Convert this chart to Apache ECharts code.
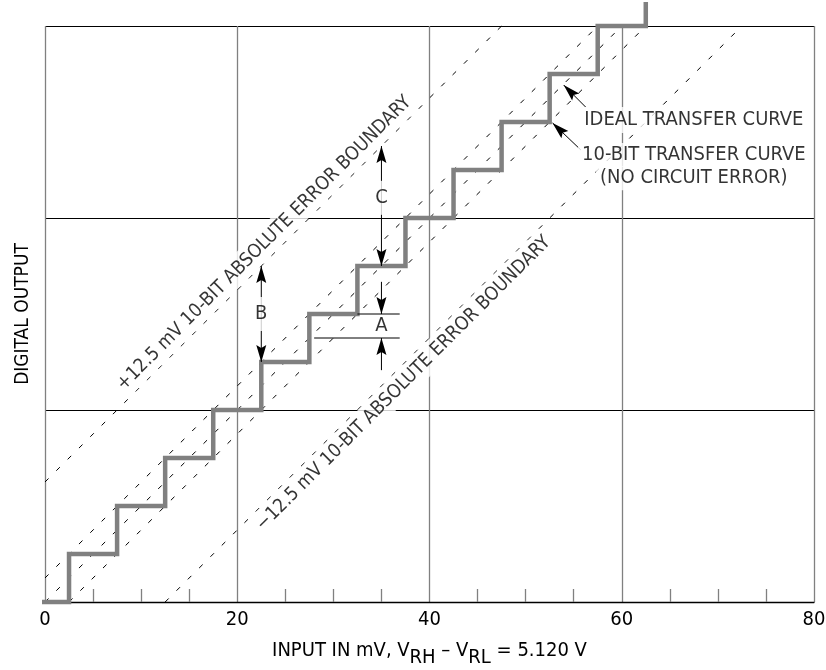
<!DOCTYPE html>
<html><head><meta charset="utf-8">
<script src="https://cdn.jsdelivr.net/npm/echarts@6/dist/echarts.min.js"></script>
<style>html,body{margin:0;padding:0;background:#fff}#c{width:826px;height:670px}</style>
</head><body><div id="c"></div>
<script>
const FONT = "'Liberation Sans Narrow','Arial Narrow','DejaVu Sans Condensed',sans-serif";

// x axis ticks (mV)
const xTicks = [0, 20, 40, 60, 80];
// 10-bit transfer staircase: transition inputs (mV) and output codes (LSB)
const stepX = [-1.6, 2.5, 7.5, 12.5, 17.5, 22.5, 27.5, 32.5, 37.5, 42.5, 47.5, 52.5, 57.5, 62.5];
const stepY = [0, 1, 2, 3, 4, 5, 6, 7, 8, 9, 10, 11, 12, 12.5];
// dashed reference lines: [x,y] end points
const idealCurve     = [[0, 0], [60, 12]];
const halfLsbAbove   = [[0, 0.5], [57.5, 12]];
const halfLsbBelow   = [[2.5, 0], [62.5, 12]];
const upperBoundary  = [[0, 2.5], [47.5, 12]];
const lowerBoundary  = [[12.5, 0], [72.5, 12]];
// dimension arrows: x1, y1, x2, y2, head at start, head at end
const arrowB      = [22.5, 5, 22.5, 7, 1, 1];
const arrowC      = [35, 7, 35, 9.5, 1, 1];
const arrowAtop   = [35, 6.67, 35, 6, 0, 1];
const arrowAbot   = [35, 4.83, 35, 5.5, 0, 1];
const arrowIdeal  = [56.25, 10.31, 53.96, 10.77, 0, 1];
const arrowTen    = [55.73, 9.42, 52.8, 9.98, 0, 1];
// short extension lines for dimension A: x1, y1, x2, y2
const extA1 = [32.5, 6, 36.9, 6, 0, 0];
const extA2 = [28, 5.5, 36.9, 5.5, 0, 0];
// annotation texts and their anchors [x, y]
const textUpper = '+12.5 mV 10-BIT ABSOLUTE ERROR BOUNDARY';
const textLower = '\u221212.5 mV 10-BIT ABSOLUTE ERROR BOUNDARY';
const anchorUpper = [22.8, 7.47];
const anchorLower = [37.3, 4.55];
const textIdeal = 'IDEAL TRANSFER CURVE';
const text10a = '10-BIT TRANSFER CURVE';
const text10b = '(NO CIRCUIT ERROR)';
const anchorIdeal = [67.5, 10.04];
const anchor10a = [67.5, 9.31];
const anchor10b = [67.5, 8.83];
const anchorA = [35, 5.75];
const anchorB = [22.5, 6.0];
const anchorC = [35, 8.42];

const chart = echarts.init(document.getElementById('c'), null, {renderer: 'canvas'});

function dashed(data) {
  return {
    type: 'line', data: data, symbol: 'none', silent: true, z: 2, clip: false,
    lineStyle: {color: '#000', width: 1, type: [5, 11]}, animation: false
  };
}

function renderArrow(params, api) {
  const p1 = api.coord([api.value(0), api.value(1)]);
  const p2 = api.coord([api.value(2), api.value(3)]);
  const children = [{
    type: 'line',
    shape: {x1: p1[0], y1: p1[1], x2: p2[0], y2: p2[1]},
    style: {stroke: '#000', lineWidth: 1}
  }];
  function head(tip, from) {
    const dx = tip[0] - from[0], dy = tip[1] - from[1];
    const len = Math.hypot(dx, dy) || 1;
    const ux = dx / len, uy = dy / len, nx = -uy, ny = ux;
    const L = 17, W = 10, N = 14;
    return {
      type: 'polygon',
      shape: {points: [
        [tip[0], tip[1]],
        [tip[0] - L * ux + W / 2 * nx, tip[1] - L * uy + W / 2 * ny],
        [tip[0] - N * ux, tip[1] - N * uy],
        [tip[0] - L * ux - W / 2 * nx, tip[1] - L * uy - W / 2 * ny]
      ]},
      style: {fill: '#000'}
    };
  }
  if (api.value(4)) children.push(head(p1, p2));
  if (api.value(5)) children.push(head(p2, p1));
  return {type: 'group', children: children};
}

function textItem(anchor, text, opts) {
  return {
    value: anchor,
    label: Object.assign({
      show: true, formatter: text, position: 'inside',
      fontFamily: FONT, fontSize: 20, color: '#000',
      backgroundColor: '#fff', padding: [3, 4]
    }, opts || {})
  };
}

const option = {
  animation: false,
  backgroundColor: '#fff',
  grid: {left: 45, right: 12, top: 26, bottom: 68, outerBoundsMode: 'none', containLabel: false},
  xAxis: {
    type: 'value', min: xTicks[0], max: xTicks[xTicks.length - 1], interval: 20,
    axisLine: {show: true, onZero: false, lineStyle: {color: '#000', width: 1.3}},
    axisTick: {show: false, inside: true},
    minorTick: {show: true, splitNumber: 4, length: 13, lineStyle: {color: '#808080', width: 1.3}},
    minorSplitLine: {show: false},
    axisLabel: {color: '#000', fontFamily: FONT, fontSize: 20, margin: 8},
    splitLine: {show: true, showMinLine: true, showMaxLine: true, lineStyle: {color: '#808080', width: 1.3}},
    name: '{n|INPUT IN mV, V}{s|RH}{n| \u2013 V}{s|RL}{n| = 5.120 V}',
    nameLocation: 'middle', nameGap: 39,
    nameTextStyle: {
      fontFamily: FONT, fontSize: 20, color: '#000',
      rich: {
        n: {fontFamily: FONT, fontSize: 20, color: '#000', lineHeight: 22, verticalAlign: 'top'},
        s: {fontFamily: FONT, fontSize: 20, color: '#000', lineHeight: 22, verticalAlign: 'top', padding: [7, 0, 0, 0]}
      }
    }
  },
  yAxis: {
    type: 'value', min: 0, max: 12, interval: 4,
    axisLine: {show: false}, axisTick: {show: false}, axisLabel: {show: false},
    splitLine: {show: true, showMinLine: false, showMaxLine: true, lineStyle: {color: '#000', width: 1}},
    name: 'DIGITAL OUTPUT', nameLocation: 'middle', nameGap: 12, nameRotate: 90,
    nameTextStyle: {fontFamily: FONT, fontSize: 19, color: '#000'}
  },
  series: [
    dashed(idealCurve), dashed(halfLsbAbove), dashed(halfLsbBelow),
    dashed(upperBoundary), dashed(lowerBoundary),
    {
      type: 'line', step: 'end', symbol: 'none', silent: true, z: 3, clip: false,
      data: stepX.map((x, i) => [x, stepY[i]]),
      lineStyle: {color: '#808080', width: 4.5, join: 'miter', cap: 'butt'}
    },
    {
      type: 'custom', silent: true, z: 4, clip: false,
      renderItem: renderArrow,
      data: [arrowB, arrowC, arrowAtop, arrowAbot, arrowIdeal, arrowTen, extA1, extA2]
    },
    {
      type: 'scatter', silent: true, z: 6, symbolSize: 0, clip: false,
      data: [
        textItem(anchorUpper, textUpper, {rotate: 45, fontSize: 19, padding: [4, 2]}),
        textItem(anchorLower, textLower, {rotate: 45, fontSize: 19, padding: [4, 2]}),
        textItem(anchorIdeal, textIdeal),
        textItem(anchor10a, text10a, {padding: [2, 4]}),
        textItem(anchor10b, text10b, {padding: [2, 4]}),
        textItem(anchorA, 'A', {backgroundColor: 'transparent', padding: 0}),
        textItem(anchorB, 'B', {padding: [7, 1]}),
        textItem(anchorC, 'C', {padding: [7, 1]})
      ]
    }
  ]
};
chart.setOption(option);
</script></body></html>
